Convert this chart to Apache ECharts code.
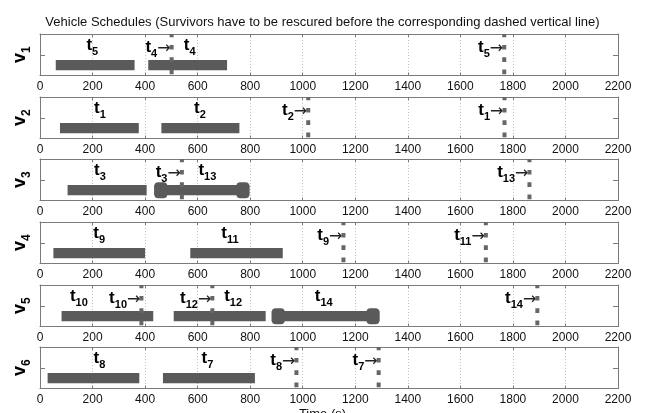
<!DOCTYPE html>
<html>
<head>
<meta charset="utf-8">
<script src="https://cdn.jsdelivr.net/npm/echarts@6/dist/echarts.min.js"></script>
<style>html,body{margin:0;padding:0;background:#fff}#chart{width:645px;height:413px}</style>
</head>
<body>
<div id="chart"></div>
<script>
// ---- data ----
const titleText = 'Vehicle Schedules (Survivors have to be rescured before the corresponding dashed vertical line)';
const xLabelText = 'Time (s)';
const vehicleNames = ['1', '2', '3', '4', '5', '6'];
const xMin = 0, xMax = 2200, xStep = 200;

// tasks (bars)
const taskVehicle = [0, 0, 1, 1, 2, 2, 3, 3, 4, 4, 4, 5, 5];
const taskName    = ['5', '4', '1', '2', '3', '13', '9', '11', '10', '12', '14', '8', '7'];
const taskStart   = [60, 412, 76, 462, 105, 435, 51, 572, 82, 509, 882, 29, 468];
const taskEnd     = [360, 712, 376, 759, 406, 797, 400, 924, 431, 859, 1292, 378, 818];
const taskLabelX  = [199, 570, 228, 609, 228, 637, 225, 723, 148, 735, 1080, 226, 637];
const taskCapped  = [0, 0, 0, 0, 0, 1, 0, 0, 0, 0, 1, 0, 0];

// deadlines (dashed vertical lines)
const deadlineVehicle = [0, 0, 1, 1, 2, 2, 3, 3, 4, 4, 4, 5, 5];
const deadlineName    = ['4', '5', '2', '1', '3', '13', '9', '11', '10', '12', '14', '8', '7'];
const deadlineTime    = [501, 1767, 1021, 1768, 540, 1863, 1155, 1697, 386, 656, 1893, 976, 1289];

// ---- layout / style ----
const FONT = 'Liberation Sans, Arial, Helvetica, sans-serif';
const gridTops = [34, 97, 159, 222, 285, 347];
const gridH = 41.5;
const BAR = '#5a5a5a';
const DL = '#666666';
const BOX = '#7a7a7a';

const labelRich = {
  t: { fontSize: 17, fontWeight: 'bold', fontFamily: FONT, lineHeight: 17, verticalAlign: 'top', fill: '#000', color: '#000' },
  s: { fontSize: 11, fontWeight: 'bold', fontFamily: FONT, lineHeight: 20, verticalAlign: 'bottom', fill: '#000', color: '#000' },
  a: { fontSize: 16, fontWeight: 'normal', fontFamily: 'DejaVu Sans, ' + FONT, verticalAlign: 'middle', fill: '#222', color: '#222' }
};

const grids = [], xAxes = [], yAxes = [], series = [];
vehicleNames.forEach((vn, i) => {
  grids.push({ left: 40, right: 27, top: gridTops[i], height: gridH, containLabel: false });
  xAxes.push({
    type: 'value', gridIndex: i, min: xMin, max: xMax, interval: xStep, position: 'bottom',
    axisLine: { show: true, onZero: false, lineStyle: { color: BOX, width: 1 } },
    axisTick: { show: true, inside: true, length: 3, lineStyle: { color: BOX } },
    axisLabel: { show: true, margin: 5, fontSize: 12, color: '#111', fontFamily: FONT, formatter: v => String(v) },
    splitLine: { show: true, lineStyle: { color: '#c4c4c4', type: [1, 2], width: 1 } }
  });
  xAxes.push({
    type: 'value', gridIndex: i, min: xMin, max: xMax, interval: xStep, position: 'top',
    axisLine: { show: true, onZero: false, lineStyle: { color: BOX, width: 1 } },
    axisTick: { show: true, inside: true, length: 3, lineStyle: { color: BOX } },
    axisLabel: { show: false }, splitLine: { show: false }
  });
  yAxes.push({
    type: 'value', gridIndex: i, min: 0, max: 4, interval: 2, position: 'left',
    name: '{v|v}{s|' + vn + '}', nameLocation: 'middle', nameRotate: 90, nameGap: 7,
    nameTextStyle: {
      rich: {
        v: { fontSize: 18, fontWeight: 'bold', fontFamily: FONT, lineHeight: 18, verticalAlign: 'top', color: '#000' },
        s: { fontSize: 12, fontWeight: 'bold', fontFamily: FONT, lineHeight: 22, verticalAlign: 'bottom', color: '#000' }
      }
    },
    axisLine: { show: true, onZero: false, lineStyle: { color: BOX, width: 1 } },
    axisTick: { show: true, inside: true, length: 5, lineStyle: { color: BOX } },
    axisLabel: { show: false }, splitLine: { show: false }
  });
  yAxes.push({
    type: 'value', gridIndex: i, min: 0, max: 4, interval: 2, position: 'right',
    axisLine: { show: true, onZero: false, lineStyle: { color: BOX, width: 1 } },
    axisTick: { show: true, inside: true, length: 5, lineStyle: { color: BOX } },
    axisLabel: { show: false }, splitLine: { show: false }
  });

  const barData = [];
  taskVehicle.forEach((v, k) => { if (v === i) barData.push([taskStart[k], taskEnd[k], taskLabelX[k], taskCapped[k], k]); });
  const dlData = [];
  deadlineVehicle.forEach((v, k) => { if (v === i) dlData.push([deadlineTime[k], k]); });

  series.push({
    type: 'custom', xAxisIndex: 2 * i, yAxisIndex: 2 * i, silent: true, z: 2,
    data: barData,
    renderItem: function (params, api) {
      const s = api.value(0), e = api.value(1), lx = api.value(2), cap = api.value(3), k = api.value(4);
      const pTop = api.coord([s, 1.5]);
      const pBot = api.coord([e, 0.5]);
      const boxTop = api.coord([xMin, 4])[1];
      const w = pBot[0] - pTop[0];
      const h = pBot[1] - pTop[1];
      const cy = (pTop[1] + pBot[1]) / 2;
      const children = [{ type: 'rect', shape: { x: pTop[0], y: pTop[1], width: w, height: h }, style: { fill: BAR } }];
      if (cap) {
        children.push({ type: 'rect', shape: { x: pTop[0], y: cy - 8, width: 13, height: 16, r: 4 }, style: { fill: BAR } });
        children.push({ type: 'rect', shape: { x: pBot[0] - 13, y: cy - 8, width: 13, height: 16, r: 4 }, style: { fill: BAR } });
      }
      children.push({
        type: 'text',
        style: {
          text: '{t|t}{s|' + taskName[k] + '}', rich: labelRich,
          x: api.coord([lx, 0])[0], y: boxTop + 3, align: 'center', verticalAlign: 'top'
        }
      });
      return { type: 'group', children: children };
    }
  });

  series.push({
    type: 'custom', xAxisIndex: 2 * i, yAxisIndex: 2 * i, silent: true, z: 3,
    data: dlData,
    renderItem: function (params, api) {
      const t = api.value(0), k = api.value(1);
      const pt = api.coord([t, 4]);
      const pb = api.coord([t, 0]);
      return {
        type: 'group',
        children: [
          { type: 'line', shape: { x1: pt[0], y1: pt[1], x2: pb[0], y2: pb[1] },
            style: { stroke: DL, lineWidth: 4, lineDash: [4.7, 7.6], lineDashOffset: 1.4 } },
          { type: 'text', style: {
              text: '{t|t}{s|' + deadlineName[k] + '}{a|\u2192}', rich: labelRich,
              x: pt[0] - 1, y: pt[1] + 5, align: 'right', verticalAlign: 'top' } }
        ]
      };
    }
  });
});

const chart = echarts.init(document.getElementById('chart'), null, { renderer: 'canvas' });
chart.setOption({
  animation: false,
  backgroundColor: '#fff',
  title: {
    text: titleText, left: 'center', top: 11,
    textStyle: { fontSize: 13, fontWeight: 'normal', color: '#111', fontFamily: FONT }
  },
  grid: grids, xAxis: xAxes, yAxis: yAxes, series: series,
  graphic: [{
    type: 'text', left: 'center', top: 408,
    style: { text: xLabelText, fontSize: 13, fontFamily: FONT, fill: '#111' }
  }]
});
</script>
</body>
</html>
